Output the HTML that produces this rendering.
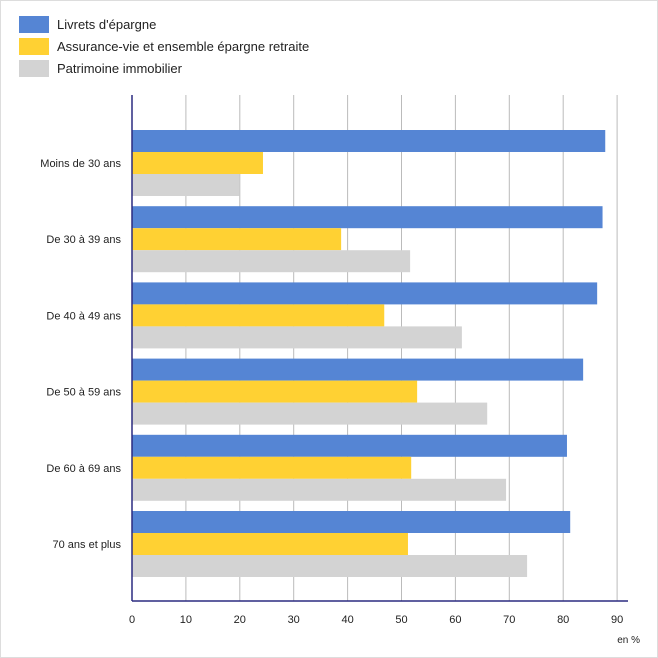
<!DOCTYPE html>
<html><head><meta charset="utf-8"><style>
body{margin:0;background:#fff;font-family:"Liberation Sans","DejaVu Sans",sans-serif}
svg{display:block}
</style></head><body>
<svg width="658" height="658" xmlns="http://www.w3.org/2000/svg">
<rect x="0.5" y="0.5" width="657" height="657" fill="#fff" stroke="#ddd"/>
<g id="legend"></g>
<g id="grid"></g>
<g id="bars"></g>
<g id="axes"></g>
</svg>
<script>
const categories=["Moins de 30 ans","De 30 à 39 ans","De 40 à 49 ans","De 50 à 59 ans","De 60 à 69 ans","70 ans et plus"];
const livrets=[87.8,87.3,86.3,83.7,80.7,81.3];
const assurance=[24.3,38.8,46.8,52.9,51.8,51.2];
const immobilier=[19.9,51.6,61.2,65.9,69.4,73.3];
const seriesNames=["Livrets d'épargne","Assurance-vie et ensemble épargne retraite","Patrimoine immobilier"];
const ticks=[0,10,20,30,40,50,60,70,80,90];
const NS="http://www.w3.org/2000/svg";
const colors=["#5585d4","#ffd133","#d3d3d3"];
const x0=132,xs=5.39,top0=130,band=76.2,bh=22,axisTop=95,axisBottom=601;
const X=v=>x0+v*xs;
function mk(t,a,p){const e=document.createElementNS(NS,t);for(const k in a)e.setAttribute(k,a[k]);p.appendChild(e);return e;}
const lg=document.getElementById('legend'),gr=document.getElementById('grid'),bg=document.getElementById('bars'),ax=document.getElementById('axes');
seriesNames.forEach((n,i)=>{
 const r=mk('rect',{x:19,y:16+i*22,width:30,height:17,fill:colors[i]},lg);
 
 
 const t=mk('text',{x:57,y:29+i*22,'font-size':13,fill:'#222'},lg);t.textContent=n;
 
 
});
ticks.forEach(v=>{
 if(v>0){const l=mk('line',{x1:X(v),x2:X(v),y1:axisTop,y2:axisBottom,stroke:'#bbb','stroke-width':1},gr);
 
 }
 const t=mk('text',{x:X(v),y:623,'font-size':11,'text-anchor':'middle',fill:'#222'},ax);t.textContent=v;
 
 
});
const all=[livrets,assurance,immobilier];
categories.forEach((c,i)=>{
 all.forEach((s,j)=>{
  const r=mk('rect',{x:x0,y:top0+i*band+j*bh,width:X(s[i])-x0,height:bh,fill:colors[j]},bg);
  
  
 });
 const t=mk('text',{x:121,y:top0+i*band+bh*1.5+4,'font-size':11,'text-anchor':'end',fill:'#222'},ax);t.textContent=c;
 
 
});
const ya=mk('line',{x1:x0,x2:x0,y1:axisTop,y2:axisBottom,stroke:'#2b2b80','stroke-width':1.5},ax);


const xa=mk('line',{x1:x0,x2:628,y1:axisBottom,y2:axisBottom,stroke:'#2b2b80','stroke-width':1.5},ax);


const u=mk('text',{x:640,y:643,'font-size':10,'text-anchor':'end',fill:'#222'},ax);u.textContent="en %";


</script>
</body></html>
